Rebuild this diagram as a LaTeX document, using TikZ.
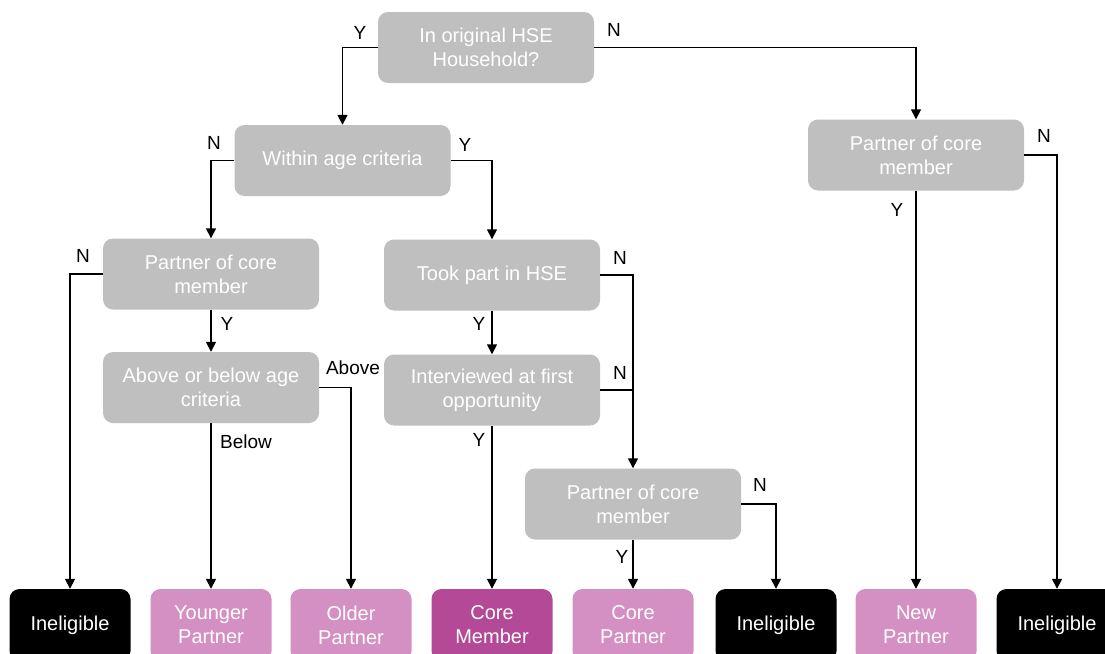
\documentclass[tikz,border=0pt]{standalone}
\usepackage{fontspec}
\setmainfont{Liberation Sans}
\usetikzlibrary{arrows.meta}
\definecolor{boxgrey}{HTML}{BFBFBF}
\definecolor{lightpink}{HTML}{D490C2}
\definecolor{darkpink}{HTML}{B44998}
\begin{document}
\begin{tikzpicture}[x=1pt,y=-1pt,
  q/.style={fill=boxgrey, rounded corners=10pt, minimum width=216pt, minimum height=71pt,
    text=white, align=center, font=\fontsize{20}{24}\selectfont, inner sep=0pt},
  res/.style={rounded corners=10pt, minimum width=121pt, minimum height=72pt,
    text=white, align=center, font=\fontsize{20}{24}\selectfont, inner sep=0pt},
  ineli/.style={res, fill=black},
  pinkres/.style={res, fill=lightpink},
  coreres/.style={res, fill=darkpink},
  arr/.style={line width=1.6pt, -{Triangle[length=10pt,width=10pt]}},
  ln/.style={line width=1.6pt},
  lab/.style={font=\fontsize{19}{22}\selectfont, text=black, inner sep=0pt}]
\useasboundingbox (0,0) rectangle (1105,653);
\fill[white] (0,0) rectangle (1105,653);

% question boxes
\node[q] (top) at (486,47.5) {In original HSE\\Household?};
\node[q] (within) at (342.5,160.5) {Within age criteria};
\node[q] (rpart) at (916,155) {Partner of core\\member};
\node[q] (lpart) at (211,274) {Partner of core\\member};
\node[q] (took) at (492,275) {Took part in HSE};
\node[q] (interv) at (492,390) {Interviewed at first\\opportunity};
\node[q] (above) at (211,387.5) {Above or below age\\criteria};
\node[q] (mpart) at (633,504) {Partner of core\\member};

% result boxes
\node[ineli] (inel1) at (70,625) {Ineligible};
\node[pinkres] (younger) at (211,625) {Younger\\Partner};
\node[pinkres] (older) at (351,625) {Older\\Partner};
\node[coreres] (core) at (492,625) {Core\\Member};
\node[pinkres] (cpartner) at (633,625) {Core\\Partner};
\node[ineli] (inel2) at (776,625) {Ineligible};
\node[pinkres] (newp) at (916,625) {New\\Partner};
\node[ineli] (inel3) at (1057,625) {Ineligible};

% connectors
\draw[arr] (top.west) -| (within.north);
\draw[arr] (top.east) -| (rpart.north);
\draw[arr] (within.west) -| (lpart.north);
\draw[arr] (within.east) -| (took.north);
\draw[arr] (lpart.west) -| (inel1.north);
\draw[arr] (lpart.south) -- (above.north);
\draw[arr] (above.east) -| (older.north);
\draw[arr] (above.south) -- (younger.north);
\draw[arr] (took.east) -| (mpart.north);
\draw[arr] (took.south) -- (interv.north);
\draw[ln] (interv.east) -- (interv.east -| mpart.north);
\draw[arr] (interv.south) -- (core.north);
\draw[arr] (mpart.south) -- (cpartner.north);
\draw[arr] (mpart.east) -| (inel2.north);
\draw[arr] (rpart.south) -- (newp.north);
\draw[arr] (rpart.east) -| (inel3.north);

% labels
\node[lab] (l1) at (360,33) {Y};
\node[lab] (l2) at (614,30) {N};
\node[lab] (l3) at (214,143) {N};
\node[lab] (l4) at (465,145) {Y};
\node[lab] (l5) at (1044,136) {N};
\node[lab] (l6) at (897,210) {Y};
\node[lab] (l7) at (83,256) {N};
\node[lab] (l8) at (227,324) {Y};
\node[lab] (l9) at (353,368) {Above};
\node[lab] (l10) at (246,442) {Below};
\node[lab] (l11) at (620,258) {N};
\node[lab] (l12) at (479,324) {Y};
\node[lab] (l13) at (620,373) {N};
\node[lab] (l14) at (479,440) {Y};
\node[lab] (l15) at (760,485) {N};
\node[lab] (l16) at (622,557) {Y};
\end{tikzpicture}
\end{document}
